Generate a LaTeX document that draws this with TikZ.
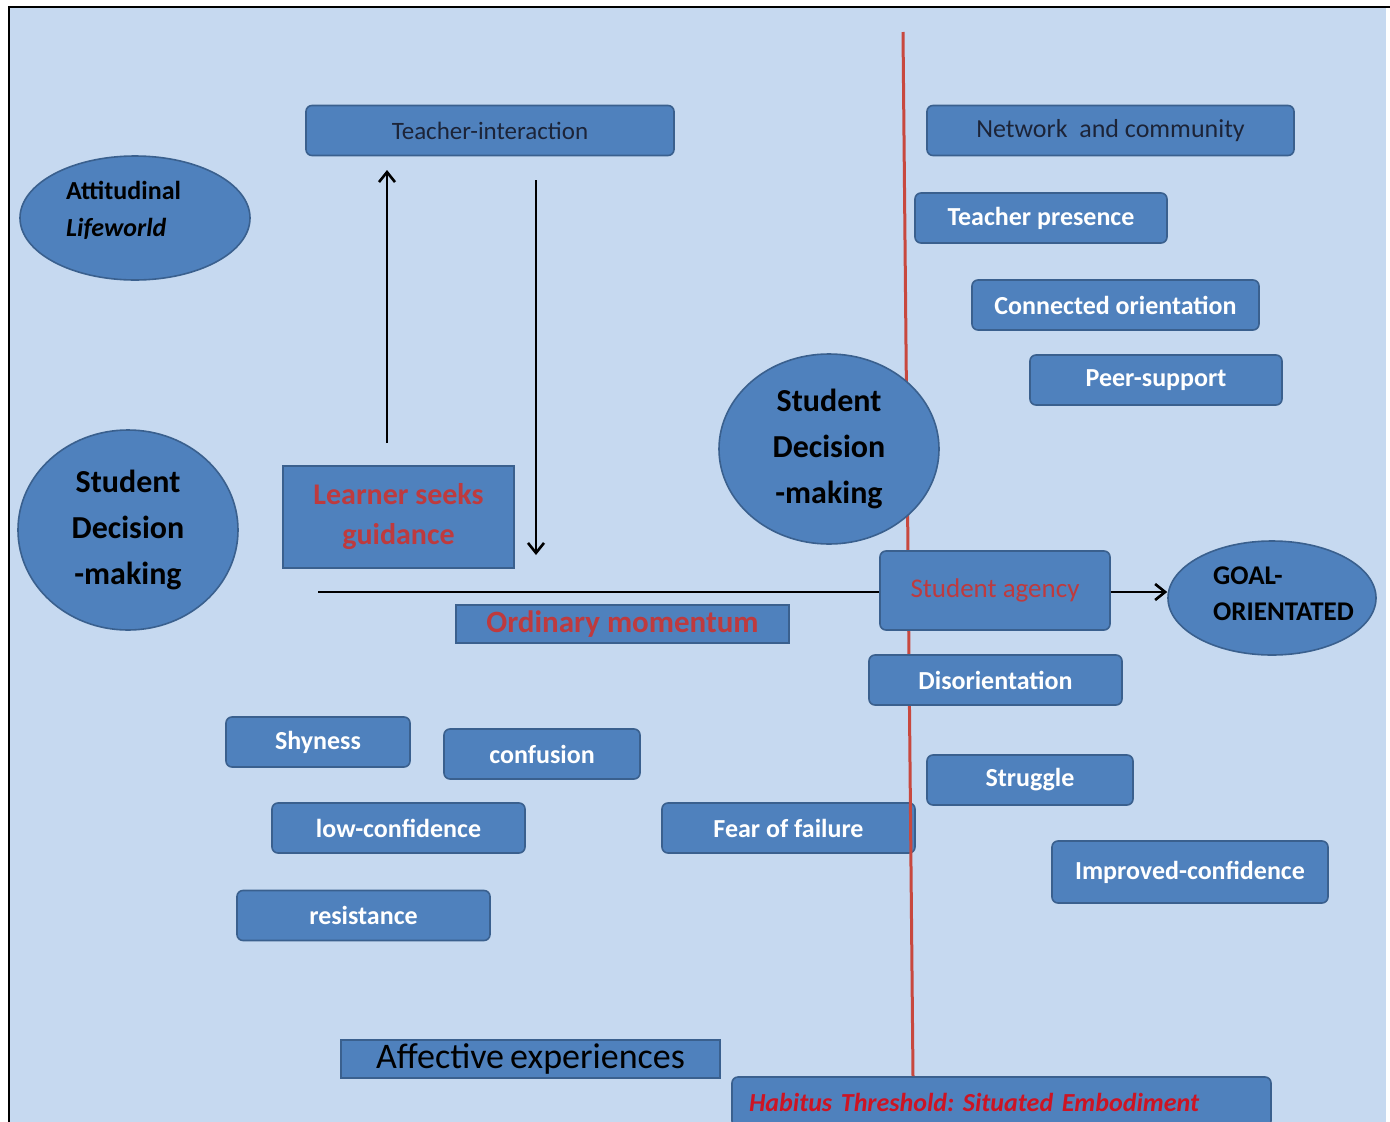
\documentclass[tikz,border=0pt]{standalone}
\usepackage{fontspec}
\setmainfont{Carlito}
\usetikzlibrary{arrows.meta, shapes.geometric}
\definecolor{bgblue}{RGB}{198,217,240}
\definecolor{boxblue}{RGB}{79,129,189}
\definecolor{edgeblue}{RGB}{58,96,142}
\definecolor{darkink}{RGB}{28,36,56}
\definecolor{txtred}{RGB}{190,58,62}
\definecolor{habred}{RGB}{205,20,35}
\definecolor{threshred}{RGB}{200,72,62}

\tikzset{
    sbox/.style={draw=edgeblue, fill=boxblue, line width=1.6pt, rounded corners=6pt,
        minimum height=50pt, inner sep=0pt, text=white,
        font=\fontsize{26}{28}\selectfont\bfseries},
    flatbox/.style={draw=edgeblue, fill=boxblue, line width=1.4pt, inner sep=0pt},
    blob/.style={ellipse, draw=edgeblue, fill=boxblue, line width=1.6pt, inner sep=0pt,
        text=black, align=center},
    blobtext/.style={anchor=west, align=left, inner sep=0pt, text=black},
    flow/.style={line width=2.4pt, -{Straight Barb[length=10pt,width=16pt,line width=2.6pt]}},
}

\begin{document}
\begin{tikzpicture}[x=1pt, y=-1pt]
            \useasboundingbox (0,0) rectangle (1390,1122);
            \fill[bgblue] (10,8) rectangle (1386,1122);
            \draw[black, line width=2.5pt] (9,1122) -- (9,7) -- (1390,7);
            %\draw[help lines, step=100] (0,0) grid (1390,1122);
            \node[sbox, minimum width=368pt, text=darkink, font=\fontsize{25}{26}\selectfont] (Teach) at (490,130.5) {Teacher-interaction};
            \node[sbox, minimum width=367pt, text=darkink, font=\fontsize{26}{28}\selectfont] (Net) at (1110.5,130.5) {Network\ \ and community};
            \node[sbox, minimum width=252pt] (TPres) at (1041,218) {Teacher presence};
            \node[sbox, minimum width=287pt] (Conn) at (1115.5,305) {Connected orientation};
            \node[sbox, minimum width=252pt] (Peer) at (1156,380) {Peer-support};
            \node[blob, minimum width=230pt, minimum height=124pt] (Attit) at (135,218) {};
            \node[blobtext, font=\fontsize{26}{37}\selectfont\bfseries] (AttitTxt) at (66,210) {Attitudinal\\\textit{Lifeworld}};
            \node[flatbox, minimum width=231pt, minimum height=102pt, text=txtred, align=center, font=\fontsize{30}{40}\selectfont\bfseries] (Seek) at (398.5,517) {Learner seeks\\guidance};
            \node[flatbox, minimum width=333pt, minimum height=38pt, text=txtred, font=\fontsize{31}{32}\selectfont\bfseries] (Ordin) at (622.5,624) {Ordinary momentum};
            \node[sbox, minimum width=184pt] (Shy) at (318,742) {Shyness};
            \node[sbox, minimum width=196pt] (Conf) at (542,754) {confusion};
            \node[sbox, minimum width=253pt] (LowC) at (398.5,828) {low-confidence};
            \node[sbox, minimum width=253pt] (Resist) at (363.5,915.5) {resistance};
            \node[flatbox, minimum width=379pt, minimum height=38pt, text=black, font=\fontsize{36}{36}\selectfont] (Affect) at (530.5,1059) {Affective\hspace{-2pt} experiences};
            \node[sbox, minimum width=539pt, text width=505pt, align=left, text=habred, font=\fontsize{26}{28}\selectfont\bfseries\itshape] (Habit) at (1001.5,1102) {Habitus Threshold:\  Situated Embodiment};
            \node[sbox, minimum width=253pt] (Fear) at (788.5,828) {Fear of failure};
            \node[sbox, minimum width=206pt] (Strug) at (1030,780) {Struggle};
            \node[sbox, minimum width=276pt, minimum height=62pt] (Impr) at (1190,872) {Improved-confidence};
            \node[blob, minimum width=208pt, minimum height=114pt] (Goal) at (1272,598) {};
            \node[blobtext, font=\fontsize{27}{36}\selectfont\bfseries] (GoalTxt) at (1213,594) {GOAL-\\ORIENTATED};
            \coordinate (ThrTop) at (903,32);
            \draw[threshred, line width=3pt] (ThrTop) -- (Habit.north -| 913,0);
            \node[blob, minimum width=220pt, minimum height=190pt, font=\fontsize{32}{46}\selectfont\bfseries] (SDMb) at (829,449) {Student\\Decision\\-making};
            \node[sbox, minimum width=230pt, minimum height=79pt, text=txtred, font=\fontsize{27}{28}\selectfont] (Agency) at (995,590.5) {Student agency};
            \node[sbox, minimum width=253pt] (Disor) at (995.5,680) {Disorientation};
            \node[blob, minimum width=220pt, minimum height=200pt, font=\fontsize{32}{46}\selectfont\bfseries] (SDMa) at (128,530) {Student\\Decision\\-making};
            \coordinate (UpFoot) at (387,443);
            \coordinate (UpTip) at (387,170);
            \coordinate (DownTop) at (536,180);
            \coordinate (DownTip) at (536,555);
            \coordinate (MomStart) at (318,592);
            \draw[flow] (UpFoot) -- (UpTip);
            \draw[flow] (DownTop) -- (DownTip);
            \draw[line width=2.4pt] (MomStart) -- (MomStart -| Agency.west);
            \draw[flow] (MomStart -| Agency.east) -- (MomStart -| Goal.west);
        \end{tikzpicture}
\end{document}
